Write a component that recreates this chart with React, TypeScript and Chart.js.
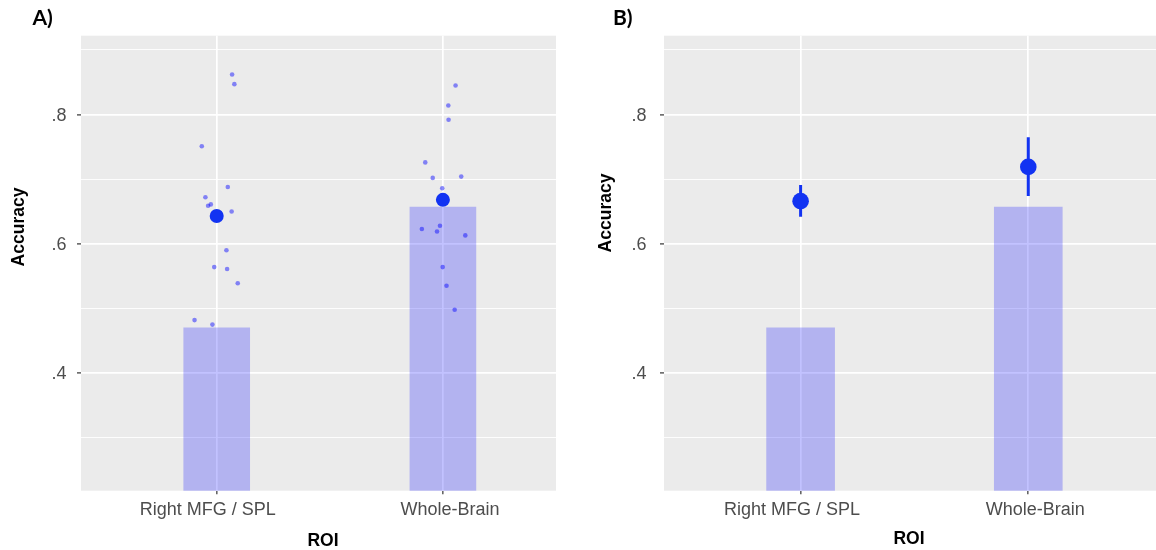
import React, { useEffect, useRef } from "react";
import { Chart, registerables } from "chart.js";

Chart.register(...registerables);

// ---------- data ----------
const categories = ["Right MFG / SPL", "Whole-Brain"];
const barValues = [0.47, 0.657];

// Panel A: individual accuracies (with horizontal jitter, in category units)
const pointsRightMFG = [0.862, 0.847, 0.751, 0.688, 0.672, 0.659, 0.661, 0.65, 0.59, 0.564, 0.561, 0.539, 0.482, 0.475];
const jitterRightMFG = [0.068, 0.078, -0.066, 0.049, -0.05, -0.038, -0.026, 0.066, 0.043, -0.011, 0.046, 0.093, -0.098, -0.019];
const pointsWholeBrain = [0.845, 0.814, 0.792, 0.726, 0.702, 0.704, 0.686, 0.628, 0.623, 0.619, 0.613, 0.564, 0.535, 0.498];
const jitterWholeBrain = [0.056, 0.024, 0.025, -0.078, -0.045, 0.081, -0.003, -0.013, -0.093, -0.026, 0.099, -0.001, 0.016, 0.052];
const meanA = [0.643, 0.668];

// Panel B: means with error bars
const meanB = [0.666, 0.719];
const lowerB = [0.642, 0.674];
const upperB = [0.691, 0.765];

const majorTicks = [0.4, 0.6, 0.8];
const minorTicks = [0.3, 0.5, 0.7, 0.9];
const yMin = 0.218;
const yMax = 0.922;

// ---------- style ----------
const FONT = "'Liberation Sans', Arial, Helvetica, sans-serif";
const PANEL_BG = "#ebebeb";
const BAR_COLOR = "rgba(0, 0, 255, 0.24)";
const DOT_COLOR = "rgba(0, 0, 255, 0.45)";
const MEAN_COLOR = "#1233f2";

type PanelSpec = {
  label: string;
  canvasLeft: number;
  width: number;
  plotLeft: number;
  plotRight: number;
  xMin: number;
  xMax: number;
  barThickness: number;
  meanRadius: number;
  labelX: number;
  yTitleX: number;
  yTitleY: number;
  xTitleX: number;
  xTitleBase: number;
  tickGap: number;
  xLabelShift: number[];
  withPoints: boolean;
  withErrors: boolean;
  means: number[];
};

const PLOT_TOP = 35.7;
const PLOT_BOTTOM = 490.7;
const HEIGHT = 550;

const panelA: PanelSpec = {
  label: "A)",
  canvasLeft: 0,
  width: 580,
  plotLeft: 81,
  plotRight: 556,
  xMin: -0.6,
  xMax: 1.5,
  barThickness: 66,
  meanRadius: 7,
  labelX: 32.5,
  yTitleX: 23.5,
  yTitleY: 227,
  xTitleX: 323,
  xTitleBase: 545.5,
  tickGap: 14.5,
  xLabelShift: [-9, 7],
  withPoints: true,
  withErrors: false,
  means: meanA,
};

const panelB: PanelSpec = {
  label: "B)",
  canvasLeft: 580,
  width: 576,
  plotLeft: 84,
  plotRight: 576,
  xMin: -0.6,
  xMax: 1.561,
  barThickness: 68,
  meanRadius: 8.3,
  labelX: 33,
  yTitleX: 31,
  yTitleY: 213,
  xTitleX: 329,
  xTitleBase: 544,
  tickGap: 17.5,
  xLabelShift: [-8.5, 7],
  withPoints: false,
  withErrors: true,
  means: meanB,
};

function buildConfig(p: PanelSpec): any {
  const datasets: any[] = [];

  datasets.push({
    type: "scatter",
    label: "mean",
    data: p.means.map((v, i) => ({ x: i, y: v })),
    backgroundColor: MEAN_COLOR,
    borderWidth: 0,
    pointRadius: p.meanRadius,
    pointHoverRadius: p.meanRadius,
    order: 0,
  });

  if (p.withErrors) {
    categories.forEach((_, i) => {
      datasets.push({
        type: "line",
        label: "err" + i,
        data: [
          { x: i, y: lowerB[i] },
          { x: i, y: upperB[i] },
        ],
        borderColor: MEAN_COLOR,
        borderWidth: 3,
        borderCapStyle: "butt",
        pointRadius: 0,
        fill: false,
        order: 1,
      });
    });
  }

  if (p.withPoints) {
    const pts = [
      ...pointsRightMFG.map((v, i) => ({ x: 0 + jitterRightMFG[i], y: v })),
      ...pointsWholeBrain.map((v, i) => ({ x: 1 + jitterWholeBrain[i], y: v })),
    ];
    datasets.push({
      type: "scatter",
      label: "individual",
      data: pts,
      backgroundColor: DOT_COLOR,
      borderWidth: 0,
      pointRadius: 2.3,
      pointHoverRadius: 2.3,
      order: 2,
    });
  }

  datasets.push({
    type: "bar",
    label: "bar",
    data: barValues.map((v, i) => ({ x: i, y: v })),
    backgroundColor: BAR_COLOR,
    borderWidth: 0,
    barThickness: p.barThickness,
    grouped: false,
    order: 3,
  });

  const bgPlugin = {
    id: "panelBg",
    beforeDraw(chart: any) {
      const { ctx, chartArea } = chart;
      ctx.save();
      ctx.fillStyle = PANEL_BG;
      ctx.fillRect(chartArea.left, chartArea.top, chartArea.right - chartArea.left, chartArea.bottom - chartArea.top);
      ctx.restore();
    },
  };

  const textPlugin = {
    id: "panelText",
    afterDraw(chart: any) {
      const { ctx, chartArea } = chart;
      const xs = chart.scales.x;
      const ys = chart.scales.y;
      ctx.save();
      // panel label
      ctx.fillStyle = "#000";
      ctx.font = "bold 21px Lato, 'Open Sans', sans-serif";
      ctx.textAlign = "left";
      ctx.textBaseline = "alphabetic";
      ctx.fillText(p.label, p.labelX, 25);

      // y tick labels
      ctx.fillStyle = "#4d4d4d";
      ctx.font = `18px ${FONT}`;
      ctx.textAlign = "right";
      majorTicks.forEach((v) => {
        const y = ys.getPixelForValue(v);
        ctx.fillText(v.toFixed(1).slice(1), chartArea.left - p.tickGap, y + 6.4);
      });

      // x tick labels
      ctx.textAlign = "center";
      categories.forEach((c, i) => {
        const x = xs.getPixelForValue(i) + p.xLabelShift[i];
        ctx.fillText(c, x, 514.5);
      });

      // axis titles
      ctx.fillStyle = "#000";
      ctx.font = `bold 17.5px ${FONT}`;
      ctx.fillText("ROI", p.xTitleX, p.xTitleBase);
      ctx.save();
      ctx.translate(p.yTitleX, p.yTitleY);
      ctx.rotate(-Math.PI / 2);
      ctx.textAlign = "center";
      ctx.fillText("Accuracy", 0, 0);
      ctx.restore();
      ctx.restore();
    },
  };

  return {
    type: "bar",
    data: { datasets },
    options: {
      animation: false,
      responsive: false,
      maintainAspectRatio: false,
      events: [],
      layout: {
        autoPadding: false,
        padding: { top: PLOT_TOP, right: p.width - p.plotRight, left: 0, bottom: 0 },
      },
      plugins: {
        legend: { display: false },
        tooltip: { enabled: false },
        title: { display: false },
      },
      scales: {
        x: {
          type: "linear",
          min: p.xMin,
          max: p.xMax,
          offset: false,
          afterBuildTicks: (scale: any) => {
            scale.ticks = categories.map((_, i) => ({ value: i }));
          },
          afterFit: (scale: any) => {
            scale.height = HEIGHT - PLOT_BOTTOM;
          },
          ticks: { display: false },
          border: { display: false },
          grid: {
            offset: false,
            color: "#ffffff",
            lineWidth: 1.7,
            drawTicks: true,
            tickLength: 3.5,
            tickColor: "#333333",
            tickWidth: 1.2,
          },
        },
        y: {
          type: "linear",
          min: yMin,
          max: yMax,
          afterBuildTicks: (scale: any) => {
            scale.ticks = [...majorTicks, ...minorTicks].sort((a, b) => a - b).map((v) => ({ value: v }));
          },
          afterFit: (scale: any) => {
            scale.width = p.plotLeft;
          },
          ticks: { display: false },
          border: { display: false },
          grid: {
            offset: false,
            color: "#ffffff",
            lineWidth: (c: any) => (majorTicks.includes(c.tick?.value) ? 1.8 : 0.9),
            drawTicks: true,
            tickLength: 4,
            tickColor: (c: any) => (majorTicks.includes(c.tick?.value) ? "#333333" : "rgba(0,0,0,0)"),
            tickWidth: 1.2,
          },
        },
      },
    },
    plugins: [bgPlugin, textPlugin],
  };
}

function Panel({ spec }: { spec: PanelSpec }) {
  const ref = useRef<HTMLCanvasElement | null>(null);
  useEffect(() => {
    if (!ref.current) return;
    const chart = new Chart(ref.current, buildConfig(spec));
    return () => chart.destroy();
  }, [spec]);
  return (
    <canvas
      ref={ref}
      width={spec.width}
      height={HEIGHT}
      style={{
        position: "absolute",
        left: spec.canvasLeft,
        top: 0,
        width: spec.width,
        height: HEIGHT,
        display: "block",
      }}
    />
  );
}

export default function App() {
  return (
    <div
      style={{
        position: "absolute",
        left: 0,
        top: 0,
        width: 1156,
        height: 550,
        background: "#ffffff",
        overflow: "hidden",
      }}
    >
      <Panel spec={panelA} />
      <Panel spec={panelB} />
    </div>
  );
}
